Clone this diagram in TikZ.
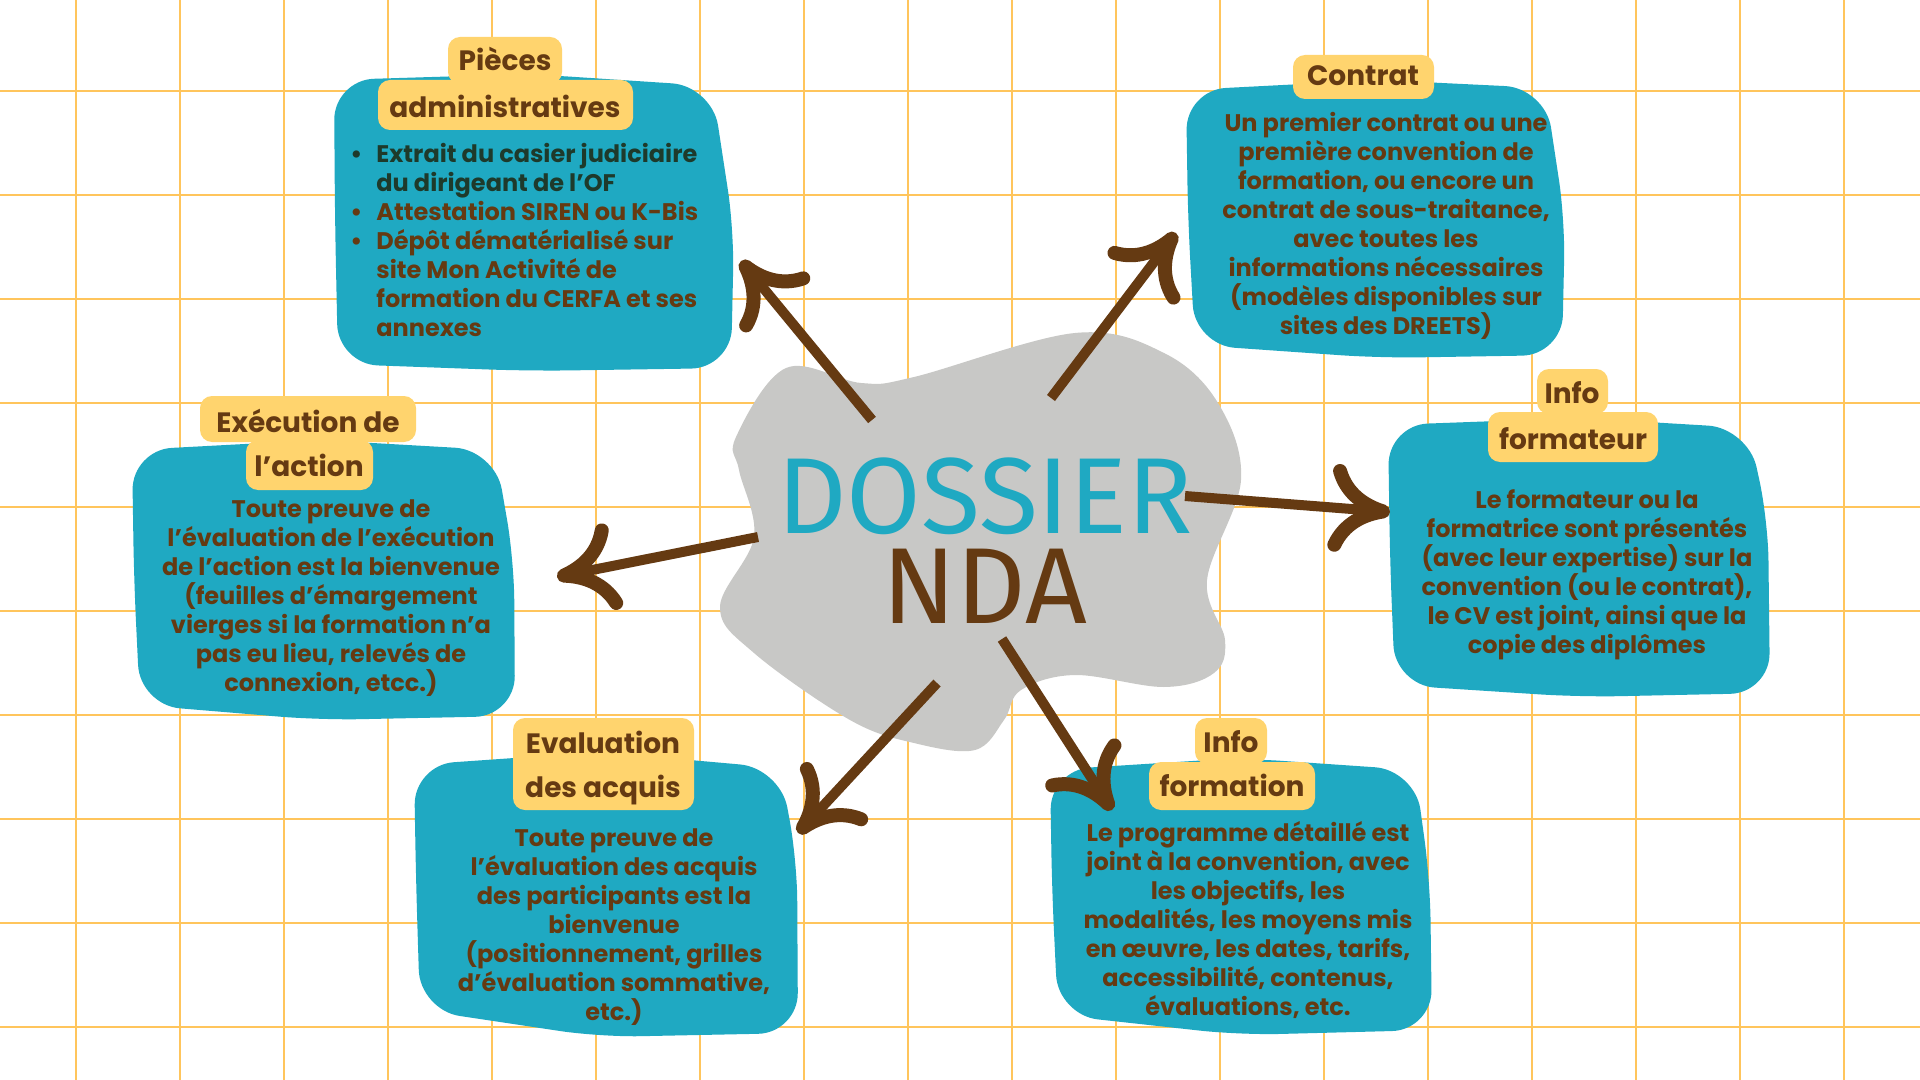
\documentclass[tikz,border=0pt]{standalone}
\usepackage{fontspec}
\setmainfont{Poppins}
\newfontfamily\titlefont{Fira Sans}
\usetikzlibrary{arrows.meta}
\definecolor{kteal}{HTML}{1FA9C2}
\definecolor{kyellow}{HTML}{FFD46E}
\definecolor{kbrown}{HTML}{653A12}
\definecolor{kdark}{HTML}{1E3A2B}
\definecolor{kgray}{HTML}{C8C8C6}
\definecolor{kgrid}{HTML}{FFC55C}

\begin{document}
\begin{tikzpicture}[x=0.5pt, y=-0.5pt,
  gridline/.style={draw=kgrid, line width=1.4pt},
  blob/.style={fill=kteal, rounded corners=20pt},
  tab/.style={fill=kyellow, rounded corners=6pt},
  tabtext/.style={font=\fontsize{14}{16}\selectfont\bfseries, text=kbrown, anchor=base, inner sep=0pt},
  bodytext/.style={font=\fontsize{12}{14.5}\selectfont\bfseries, text=kbrown, align=center, inner sep=0pt},
  brush/.style={draw=kbrown, line width=5pt, -{Computer Modern Rightarrow[length=30pt, width=44pt, line width'=7pt]}}]
\useasboundingbox (0,0) rectangle (1920,1080);
\fill[white] (0,0) rectangle (1920,1080);
% grid paper
\foreach \gx in {76,180,...,1844} \draw[gridline] (\gx,0) -- (\gx,1080);
\foreach \gy in {91,195,...,1027} \draw[gridline] (0,\gy) -- (1920,\gy);

% teal blobs
\fill[blob] (334,80) -- (530,74) -- (712,86) -- (734,230) -- (731,368) -- (530,371) -- (338,364) -- (335,220) -- cycle;
\fill[blob] (1186,90) -- (1380,80) -- (1545,88) -- (1565,220) -- (1562,355) -- (1380,358) -- (1195,345) -- (1188,220) -- cycle;
\fill[blob] (132,450) -- (320,440) -- (495,450) -- (514,560) -- (515,716) -- (320,720) -- (140,705) -- (134,580) -- cycle;
\fill[blob] (1388,425) -- (1580,418) -- (1748,428) -- (1768,520) -- (1770,693) -- (1580,697) -- (1395,685) -- (1390,560) -- cycle;
\fill[blob] (414,765) -- (600,752) -- (780,768) -- (797,860) -- (798,1033) -- (600,1037) -- (420,1010) -- (416,880) -- cycle;
\fill[blob] (1050,770) -- (1240,758) -- (1415,770) -- (1430,880) -- (1432,1030) -- (1240,1035) -- (1058,1015) -- (1052,890) -- cycle;

% yellow tabs
\fill[tab] (448,37) rectangle (562,84);
\fill[tab] (378,80) rectangle (633,130);
\fill[tab] (1293,55) rectangle (1434,99);
\fill[tab] (200,396) rectangle (416,442);
\fill[tab] (246,440) rectangle (373,490);
\fill[tab] (1537,369) rectangle (1608,414);
\fill[tab] (1488,412) rectangle (1658,462);
\fill[tab] (513,718) rectangle (694,810);
\fill[tab] (1195,718) rectangle (1267,764);
\fill[tab] (1149,762) rectangle (1315,810);

% titles
\node[tabtext] (pieces-t1) at (505,71) {Pièces};
\node[tabtext] (pieces-t2) at (505,118) {administratives};
\node[tabtext] (contrat-t) at (1363,86) {Contrat};
\node[tabtext] (exec-t1) at (308,432) {Exécution de};
\node[tabtext] (exec-t2) at (309,476) {l’action};
\node[tabtext] (formateur-t1) at (1572,403) {Info};
\node[tabtext] (formateur-t2) at (1573,449) {formateur};
\node[tabtext] (eval-t1) at (603,753) {Evaluation};
\node[tabtext] (eval-t2) at (603,797) {des acquis};
\node[tabtext] (formation-t1) at (1231,752) {Info};
\node[tabtext] (formation-t2) at (1232,796) {formation};

% texts
\node[bodytext, align=left, anchor=west] (pieces) at (350,240)
  {\textcolor{kdark}{\makebox[13pt][l]{•}Extrait du casier judiciaire}\\
   \textcolor{kdark}{\makebox[13pt]{}du dirigeant de l’OF}\\
   \makebox[13pt][l]{•}Attestation SIREN ou K-Bis\\
   \makebox[13pt][l]{•}Dépôt dématérialisé sur\\
   \makebox[13pt]{}site Mon Activité de\\
   \makebox[13pt]{}formation du CERFA et ses\\
   \makebox[13pt]{}annexes};
\node[bodytext] (contrat) at (1386,226)
  {Un premier contrat ou une\\première convention de\\formation, ou encore un\\contrat de sous-traitance,\\avec toutes les\\informations nécessaires\\(modèles disponibles sur\\sites des DREETS)};
\node[bodytext] (exec) at (331,598)
  {Toute preuve de\\l’évaluation de l’exécution\\de l’action est la bienvenue\\(feuilles d’émargement\\vierges si la formation n’a\\pas eu lieu, relevés de\\connexion, etcc.)};
\node[bodytext] (formateur) at (1587,575)
  {Le formateur ou la\\formatrice sont présentés\\(avec leur expertise) sur la\\convention (ou le contrat),\\le CV est joint, ainsi que la\\copie des diplômes};
\node[bodytext] (eval) at (614,927)
  {Toute preuve de\\l’évaluation des acquis\\des participants est la\\bienvenue\\(positionnement, grilles\\d’évaluation sommative,\\etc.)};
\node[bodytext] (formation) at (1248,920)
  {Le programme détaillé est\\joint à la convention, avec\\les objectifs, les\\modalités, les moyens mis\\en œuvre, les dates, tarifs,\\accessibilité, contenus,\\évaluations, etc.};

% centre
\fill[kgray] plot[smooth cycle, tension=0.6] coordinates {(736,437) (786,368) (861,383) (914,377) (1075,333) (1164,353) (1218,403) (1241,480) (1207,580) (1225,640) (1214,673) (1164,687) (1075,675) (1021,690) (1004,720) (975,750) (914,743) (850,720) (754,653) (720,607) (754,537) (739,470)};
\node[font=\titlefont\fontsize{54}{45}\selectfont, align=center, inner sep=0pt] (dossier) at (985,541)
  {\textcolor{kteal}{DOSSIER}\\\textcolor{kbrown}{NDA}};

% arrows
\coordinate (c-pieces) at (872,420);
\coordinate (e-pieces) at (741,261);
\coordinate (c-contrat) at (1051,398);
\coordinate (e-contrat) at (1176,233);
\coordinate (c-formateur) at (1185,496);
\coordinate (e-formateur) at (1390,512);
\coordinate (c-exec) at (758,537);
\coordinate (e-exec) at (557,577);
\coordinate (c-eval) at (937,683);
\coordinate (e-eval) at (798,833);
\coordinate (c-formation) at (1002,639);
\coordinate (e-formation) at (1112,810);
\draw[brush] (c-pieces) -- (e-pieces);
\draw[brush] (c-contrat) -- (e-contrat);
\draw[brush] (c-formateur) -- (e-formateur);
\draw[brush] (c-exec) -- (e-exec);
\draw[brush] (c-eval) -- (e-eval);
\draw[brush] (c-formation) -- (e-formation);
\end{tikzpicture}
\end{document}
